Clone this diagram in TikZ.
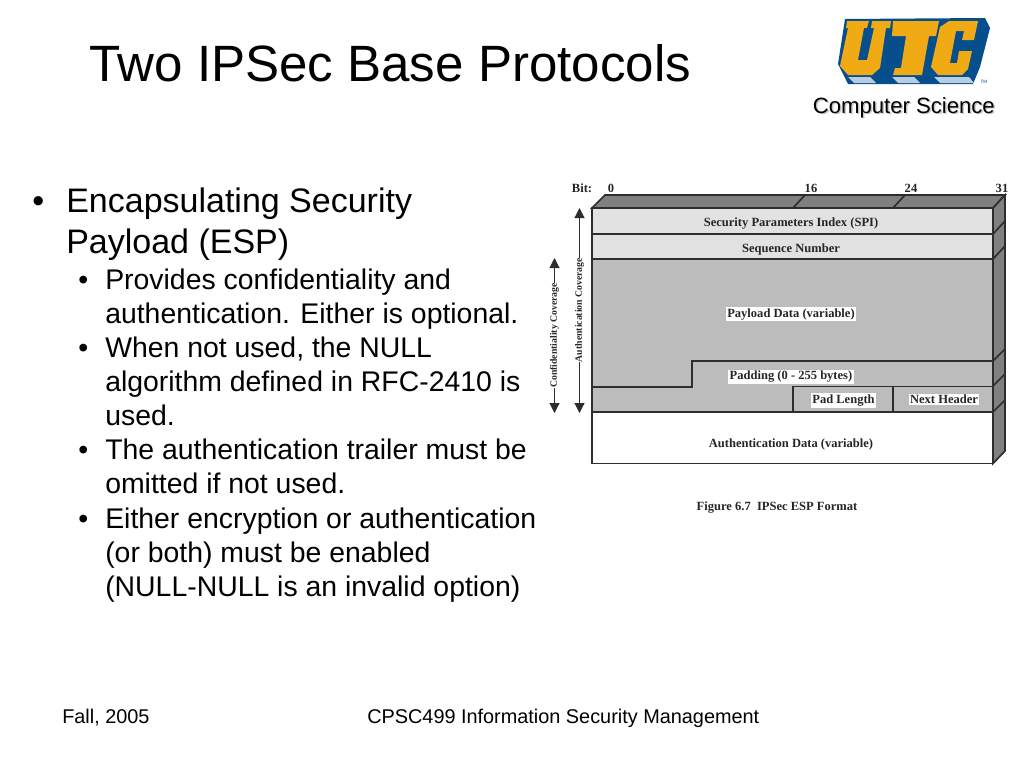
\documentclass[tikz,border=0pt]{standalone}
\usepackage{fontspec}
\setmainfont{Liberation Sans}
\newfontfamily\serifb{Liberation Serif}[BoldFont={Liberation Serif Bold}]
\usetikzlibrary{arrows.meta}
\definecolor{cellLight}{RGB}{226,226,226}
\definecolor{cellMid}{RGB}{188,188,188}
\definecolor{sideDark}{RGB}{128,128,128}
\definecolor{lineDark}{RGB}{45,45,45}
\definecolor{logoBlue}{RGB}{6,78,140}
\definecolor{logoGold}{RGB}{240,170,20}
\definecolor{logoPale}{RGB}{185,205,225}
\tikzset{
 bullettext/.style={anchor=base west,inner sep=0pt,font=\fontsize{25.5pt}{30pt}\selectfont},
 subtext/.style={anchor=base west,inner sep=0pt,font=\fontsize{21.3pt}{25pt}\selectfont},
 foot/.style={anchor=base west,inner sep=0pt,font=\fontsize{14.9pt}{17pt}\selectfont},
 cell/.style={draw=lineDark,line width=1.25pt},
 lab/.style={inner sep=1pt,font=\serifb\bfseries\fontsize{9.4pt}{11pt}\selectfont,text=black!85},
 whitelab/.style={lab,fill=white},
 rotlab/.style={inner sep=0pt,rotate=90,font=\serifb\bfseries\fontsize{7.3pt}{9pt}\selectfont,text=black!85},
 side/.style={draw=lineDark,line width=1.25pt,fill=sideDark},
 arr/.style={draw=lineDark,line width=0.8pt,-{Triangle[length=7.5pt,width=7.5pt]}},
 gold/.style={fill=logoGold},
 pale/.style={fill=logoPale}
}
\begin{document}
\begin{tikzpicture}[x=0.75pt,y=-0.75pt]
\useasboundingbox (0,0) rectangle (1024,768);
\fill[white] (0,0) rectangle (1024,768);
% title
\node[anchor=base west,inner sep=0pt,font=\fontsize{38.3pt}{42pt}\selectfont] (title) at (89,81) {Two IPSec Base Protocols};
% logo
\fill[logoBlue] (845,19) -- (985,18) -- (990,28) -- (980,67) -- (973,84) -- (848,84) -- (838,64) -- cycle;
\fill[pale] (848,77) -- (870,77) -- (876,83) -- (854,83) -- cycle;
\fill[pale] (892,77) -- (914,77) -- (920,83) -- (898,83) -- cycle;
\fill[pale] (934,77) -- (969,77) -- (974,83) -- (940,83) -- cycle;
\fill[gold] (847,21) -- (869,21) -- (867,28) -- (864,28) -- (858,60) -- (867,60) -- (874,28) -- (871,28) -- (872,21) -- (891,21) -- (890,28) -- (886,28) -- (880,68) -- (872,75) -- (848,75) -- (840,66) -- (848,28) -- (846,28) -- cycle;
\fill[gold] (893,21) -- (939,21) -- (936,36) -- (929,36) -- (922,75) -- (893,75) -- (895,68) -- (901,68) -- (906,36) -- (892,36) -- cycle;
\fill[gold] (949,21) -- (978,21) -- (974,40) -- (962,40) -- (964,31) -- (956,31) -- (950,63) -- (957,63) -- (959,51) -- (972,51) -- (968,69) -- (962,75) -- (938,75) -- (931,67) -- (940,27) -- cycle;
\node[inner sep=0pt,font=\fontsize{3.5pt}{4pt}\selectfont,text=logoBlue] (tm) at (984,82) {TM};
\node[anchor=base west,inner sep=0pt,font=\fontsize{16.6pt}{20pt}\selectfont,text=black!50,opacity=0.45] (csshadow) at (814,114.5) {Computer Science};
\node[anchor=base west,inner sep=0pt,font=\fontsize{16.6pt}{20pt}\selectfont] (cs) at (812.5,113) {Computer Science};
% body
\node[bullettext] (b0) at (32,212) {•};
\node[bullettext] (l1) at (66,212) {Encapsulating Security};
\node[bullettext] (l2) at (66,253) {Payload (ESP)};
\node[subtext] (s1) at (78,289) {•};
\node[subtext] (t1) at (105,289) {Provides confidentiality and};
\node[subtext] (t2) at (105,323) {authentication. Either is optional.};
\node[subtext] (s2) at (78,357) {•};
\node[subtext] (t3) at (105,357) {When not used, the NULL};
\node[subtext] (t4) at (105,391) {algorithm defined in RFC-2410 is};
\node[subtext] (t5) at (105,425) {used.};
\node[subtext] (s3) at (78,459) {•};
\node[subtext] (t6) at (105,459) {The authentication trailer must be};
\node[subtext] (t7) at (105,493) {omitted if not used.};
\node[subtext] (s4) at (78,528) {•};
\node[subtext] (t8) at (105,528) {Either encryption or authentication};
\node[subtext] (t9) at (105,562) {(or both) must be enabled};
\node[subtext] (t10) at (105,596) {(NULL-NULL is an invalid option)};
% footer
\node[foot] (f1) at (62,723) {Fall, 2005};
\node[foot] (f2) at (367,723) {CPSC499 Information Security Management};
% diagram: 3D top and side
\draw[side] (592,208) -- (605,195) -- (1005,195) -- (993,208) -- cycle;
\draw[side] (993,208) -- (1005,195) -- (1005,451) -- (993,463.5) -- cycle;
\draw[cell] (793,208) -- (805,195);
\draw[cell] (893,208) -- (905,195);
\draw[cell] (993,234) -- (1005,221);
\draw[cell] (993,259) -- (1005,246);
\draw[cell] (993,361) -- (1005,349);
\draw[cell] (993,386) -- (1005,374);
\draw[cell] (993,412) -- (1005,400);
% cells
\draw[cell,fill=cellLight] (592,208) rectangle (993,234);
\draw[cell,fill=cellLight] (592,234) rectangle (993,259);
\draw[cell,fill=cellMid] (592,259) rectangle (993,412);
\draw[cell] (592,387) -- (692,387) -- (692,361) -- (993,361);
\draw[cell] (793,412) -- (793,386.5) -- (993,386.5);
\draw[cell] (893,412) -- (893,386.5);
\draw[cell,fill=white] (592,412) rectangle (993,463.5);
% labels
\node[lab] (spi) at (791,223.5) {Security Parameters Index (SPI)};
\node[lab] (seq) at (791,249) {Sequence Number};
\node[whitelab] (pay) at (791,314) {Payload Data (variable)};
\node[whitelab] (pad) at (791,377) {Padding (0 - 255 bytes)};
\node[whitelab] (padl) at (843.5,400.5) {Pad Length};
\node[whitelab] (nh) at (944,399.5) {Next Header};
\node[lab] (auth) at (791,444) {Authentication Data (variable)};
\node[lab] (fig) at (777,508) {Figure 6.7\ \ IPSec ESP Format};
\node[lab] (bit) at (582,188) {Bit:};
\node[lab] (b00) at (611,188) {0};
\node[lab] (b16) at (811,188) {16};
\node[lab] (b24) at (911,188) {24};
\node[lab] (b31) at (1002,188) {31};
% coverage
\node[rotlab] (conf) at (554.5,335.5) {Confidentiality Coverage};
\node[rotlab] (authc) at (579.5,310) {Authentication Coverage};
\coordinate (c1) at (554.5,258);
\coordinate (c2) at (554.5,413);
\coordinate (a1) at (579.5,208);
\coordinate (a2) at (579.5,413);
\draw[arr] (conf.east) -- (c1);
\draw[arr] (conf.west) -- (c2);
\draw[arr] (authc.east) -- (a1);
\draw[arr] (authc.west) -- (a2);
\end{tikzpicture}
\end{document}
